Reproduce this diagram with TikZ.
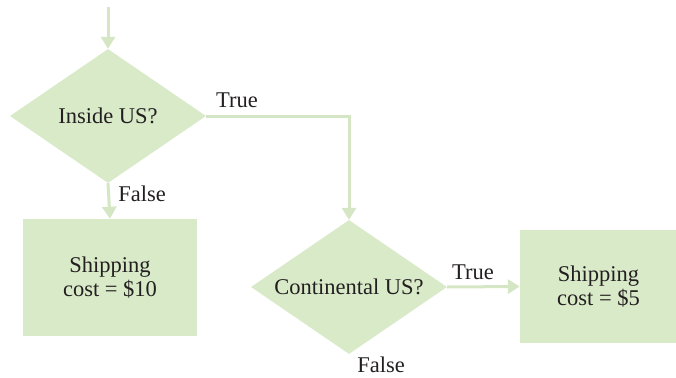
\documentclass[tikz,border=0pt]{standalone}
\usepackage{fontspec}
\setmainfont{Liberation Serif}
\definecolor{flowgreen}{RGB}{217,234,201}
\definecolor{linegreen}{RGB}{212,230,195}
\definecolor{inkgray}{RGB}{35,31,32}
\usepackage{tikz}
\usetikzlibrary{arrows.meta,shapes.geometric}

\begin{document}
\begin{tikzpicture}[x=1pt,y=-1pt,font=\fontsize{22.5}{24}\selectfont,text=inkgray,
    decision/.style={diamond,fill=flowgreen,inner sep=0pt,aspect=1.46,
      minimum width=196pt,minimum height=134pt},
    outbox/.style={rectangle,fill=flowgreen,align=center,inner sep=0pt},
    flow/.style={-{Triangle[width=14pt,length=12pt]},line width=3pt,draw=linegreen}]
        \useasboundingbox (0,0) rectangle (676,377);
        \coordinate (start) at (108,7);
        \node[decision] (inside) at (108,116) {Inside US?};
        \node[outbox,minimum width=174pt,minimum height=117pt]
              (cost10) at (110,277.5) {Shipping\\cost = \$10};
        \node[decision] (continental) at (349,287) {Continental US?};
        \node[outbox,minimum width=157pt,minimum height=113pt]
              (cost5) at (598.5,286.5) {Shipping\\cost = \$5};
        \draw[flow] (start)--(inside.north);
        \draw[flow] (inside.south)--(cost10.north);
        \draw[flow] (inside.east)-|(continental.north);
        \draw[flow] (continental.east)--(cost5.west);
        \node (insidetrue) at (237,100) {True};
        \node (insidefalse) at (142,194) {False};
        \node (conttrue) at (473,272) {True};
        \node (contfalse) at (381,365) {False};
      \end{tikzpicture}
\end{document}
